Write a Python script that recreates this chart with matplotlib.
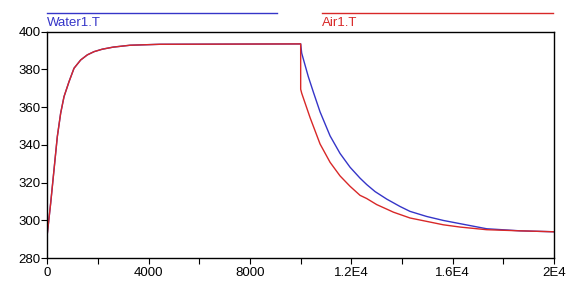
import matplotlib
matplotlib.use("Agg")
import matplotlib.pyplot as plt
from matplotlib.ticker import MultipleLocator, FixedLocator, FixedFormatter

# ---------------------------------------------------------------------------
# Data (time in s, temperature in K)
# ---------------------------------------------------------------------------
heat_t = [0, 133, 264, 395, 527, 660, 857, 1054, 1318, 1580, 1845, 2170,
          2600, 3270, 4450, 10000]
heat_T = [293.0, 309.2, 326.8, 344.4, 356.8, 365.6, 373.5, 380.6, 385.0,
          387.7, 389.4, 390.7, 391.8, 392.8, 393.3, 393.5]

water_cool_t = [10040, 10300, 10500, 10765, 11160, 11553, 11948, 12343,
                12607, 12935, 13397, 13921, 14316, 14975, 15630, 16290,
                17340, 18660, 20000]
water_cool_T = [388.6, 376.2, 368.0, 357.5, 344.8, 335.5, 328.2, 322.4,
                319.0, 315.3, 311.3, 307.4, 304.8, 302.1, 300.0, 298.3,
                295.6, 294.5, 294.0]

air_cool_t = [10000, 10040, 10370, 10765, 11160, 11553, 11948, 12343,
              12607, 13000, 13397, 13657, 14316, 14975, 15630, 16290,
              17340, 18660, 20000]
air_cool_T = [369.5, 367.4, 354.5, 340.5, 330.8, 323.6, 318.1, 313.3,
              311.6, 308.4, 306.0, 304.4, 301.3, 299.5, 297.7, 296.5,
              295.1, 294.5, 294.0]

x_ticks = [0, 4000, 8000, 12000, 16000, 20000]
x_tick_labels = ["0", "4000", "8000", "1.2E4", "1.6E4", "2E4"]
y_ticks = [280, 300, 320, 340, 360, 380, 400]

series_names = ["Water1.T", "Air1.T"]
BLUE = "#3535c8"
RED = "#d82828"

plt.rcParams["font.family"] = ["Liberation Sans", "DejaVu Sans"]

fig = plt.figure(figsize=(5.7, 2.85), dpi=100)
ax = fig.add_axes([0.083, 0.094, 0.889, 0.795])

# both temperatures follow the same heating curve, then split on cooling
ax.plot(heat_t + water_cool_t, heat_T + water_cool_T, color=BLUE, linewidth=1.0)
ax.plot(heat_t + air_cool_t, heat_T + air_cool_T, color=RED, linewidth=1.0)

ax.set_xlim(0, 20000)
ax.set_ylim(280, 400)
ax.xaxis.set_major_locator(FixedLocator(x_ticks))
ax.xaxis.set_major_formatter(FixedFormatter(x_tick_labels))
ax.xaxis.set_minor_locator(MultipleLocator(2000))
ax.yaxis.set_major_locator(FixedLocator(y_ticks))

ax.tick_params(axis="both", which="both", direction="out", length=4,
               width=0.8, labelsize=9.5, colors="black", pad=1)
ax.tick_params(axis="x", pad=2)
for sp in ax.spines.values():
    sp.set_linewidth(1.0)
    sp.set_color("black")

# legend drawn as lines with labels above the plot, like the source tool
fig.add_artist(plt.Line2D([47 / 570, 277 / 570], [1 - 13.3 / 285] * 2,
                          color=BLUE, linewidth=1.0))
fig.text(47 / 570, 1 - 22.5 / 285, series_names[0], color=BLUE,
         fontsize=9.5, va="center", ha="left")
fig.add_artist(plt.Line2D([322 / 570, 553 / 570], [1 - 13.3 / 285] * 2,
                          color=RED, linewidth=1.0))
fig.text(322 / 570, 1 - 22.5 / 285, series_names[1], color=RED,
         fontsize=9.5, va="center", ha="left")

fig.savefig("out.png", dpi=100)
